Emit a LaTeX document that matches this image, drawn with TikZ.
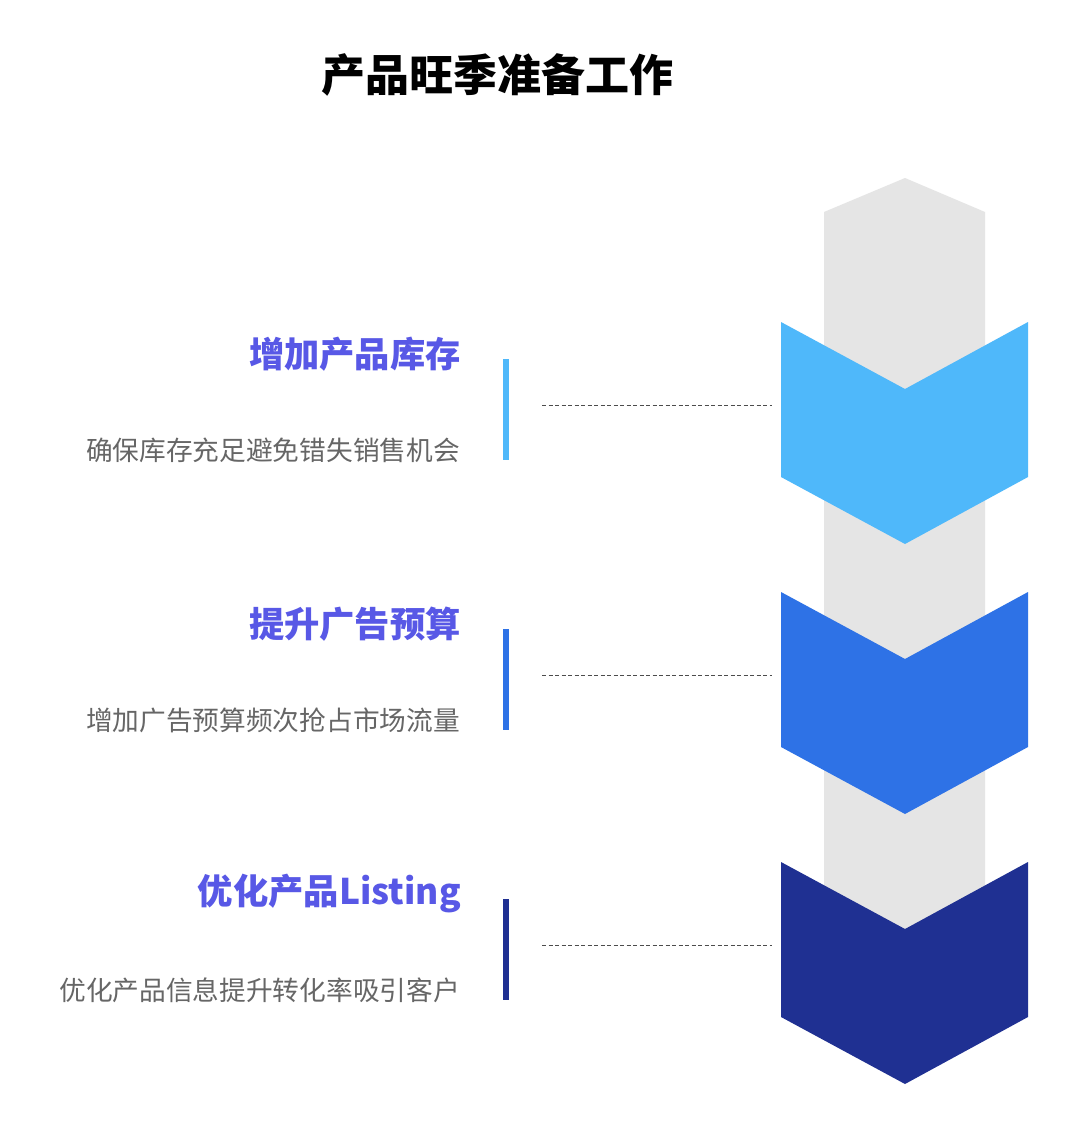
\documentclass[tikz,border=0pt]{standalone}
\usepackage{fontspec}
\setmainfont{Noto Sans CJK SC}
\definecolor{bargray}{HTML}{E5E5E5}
\definecolor{cA}{HTML}{4FB8FA}
\definecolor{cB}{HTML}{2E72E6}
\definecolor{cC}{HTML}{1F3092}
\definecolor{titlec}{HTML}{5858E6}
\definecolor{descc}{HTML}{666666}
\tikzset{
  maintitle/.style={font=\fontsize{44}{48}\selectfont\bfseries, text=black, inner sep=0pt},
  itemtitle/.style={font=\fontsize{35.3}{38}\selectfont\bfseries, text=titlec, anchor=east, inner sep=0pt},
  itemdesc/.style={font=\fontsize{26.7}{30}\selectfont, text=descc, anchor=east, inner sep=0pt},
  leader/.style={draw=black!70, line width=0.9pt, dash pattern=on 4pt off 2.5pt},
}
\begin{document}
\begin{tikzpicture}[x=1pt,y=-1pt]
\useasboundingbox (0,0) rectangle (1080,1137);
\fill[white] (0,0) rectangle (1080,1137);
\node[maintitle] (title) at (497,75) {产品旺季准备工作};
% gray backbone
\fill[bargray] (824,212) -- (905,178) -- (985,212) -- (985,1010) -- (824,1010) -- cycle;
% items
\foreach \y/\c/\t/\d/\n in {322/cA/增加产品库存/确保库存充足避免错失销售机会/1,
                           592/cB/提升广告预算/增加广告预算频次抢占市场流量/2,
                           862/cC/优化产品Listing/优化产品信息提升转化率吸引客户/3}{
  \fill[\c] (781,\y) -- (905,\y+67) -- (1028,\y) -- (1028,\y+155) -- (905,\y+222) -- (781,\y+155) -- cycle;
  \fill[\c] (503,\y+37) rectangle (509,\y+138);
  \node[itemtitle] (t\n) at (461,\y+32) {\t};
  \node[itemdesc] (d\n) at (460,\y+128) {\d};
  \coordinate (ls\n) at (542,\y+83);
  \coordinate (le\n) at (772,\y+83);
  \draw[leader] (ls\n) -- (le\n);
}
\end{tikzpicture}
\end{document}
